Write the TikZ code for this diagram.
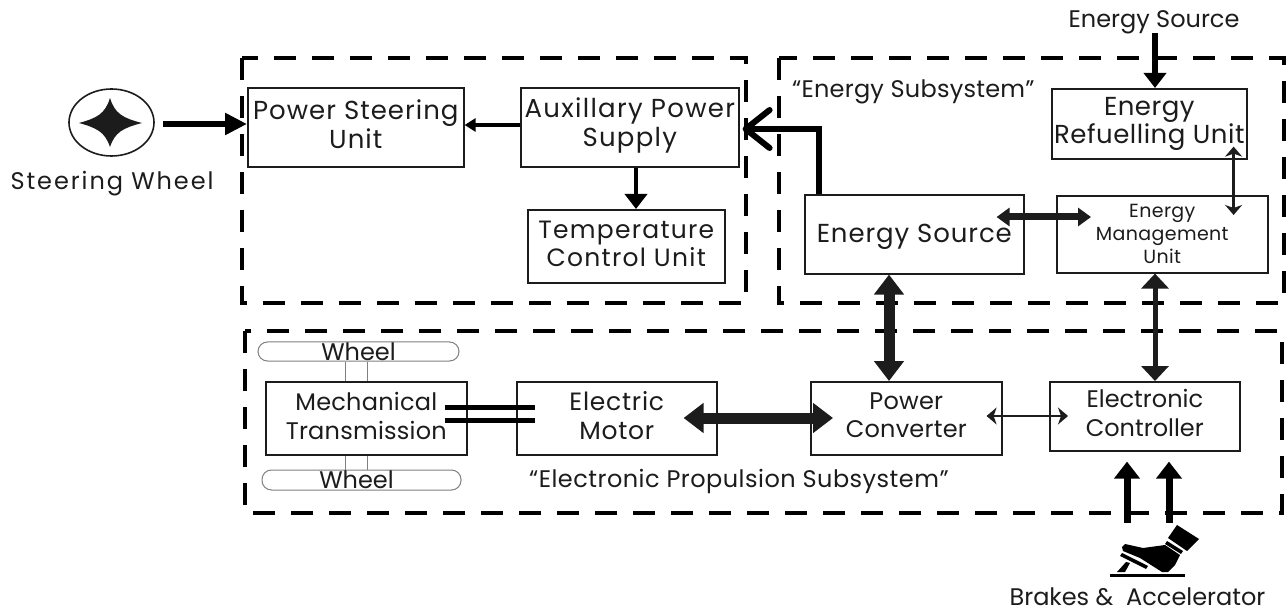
\documentclass[tikz,border=0pt]{standalone}
\usepackage{fontspec}
\setmainfont{Poppins}
\usetikzlibrary{arrows.meta,calc,shapes.geometric}
\definecolor{ink}{HTML}{1C1C1C}
\newcommand{\ft}[3]{\fontsize{#1}{#2}\selectfont\addfontfeature{LetterSpace=#3}}
\tikzset{
  x=1pt,y=-1pt,
  unit/.style={draw=ink,line width=1.6pt,inner sep=0pt,align=center,anchor=north west,text=ink},
  group/.style={draw=black,line width=3.4pt,dash pattern=on 22pt off 16pt},
  label/.style={text=ink,font={\ft{24}{28}{0}},inner sep=0pt},
  both/.style={line width=11pt,{Triangle[length=20pt,width=29pt]}-{Triangle[length=20pt,width=29pt]}},
  med/.style={line width=7pt,{Triangle[length=13pt,width=18pt]}-{Triangle[length=13pt,width=18pt]}},
  tall/.style={line width=5pt,{Triangle[length=15pt,width=27pt]}-{Triangle[length=15pt,width=27pt]}},
  single/.style={line width=6pt,-{Triangle[length=15pt,width=22pt]}},
  pedalarrow/.style={line width=7pt,-{Triangle[length=17pt,width=25pt]},shorten >=10pt},
  slim/.style={line width=2.6pt,{Stealth[length=10pt,width=17pt,inset=3pt]}-{Stealth[length=10pt,width=17pt,inset=3pt]}},
  tyre/.style={draw=gray,line width=1pt,rounded corners=9.5pt,inner sep=0pt,text=ink,font={\ft{24}{24}{0}}},
  axle/.style={draw=gray,line width=1pt},
}
\newcommand{\boxat}[7][]{\node[unit,minimum width=#5pt,minimum height=#6pt,#1] (#2) at (#3,#4) {#7};}
\begin{document}
\begin{tikzpicture}
\useasboundingbox (0,0) rectangle (1288,612);
\fill[white] (0,0) rectangle (1288,612);
% dashed groups
\draw[group] (242,58) rectangle (746,303);
\draw[group] (779,58) rectangle (1284,303);
\draw[group] (245,331) rectangle (1282,513);
% units
\boxat[font={\ft{26}{29}{4}},text depth=6pt]{ps}{247}{87}{216}{79}{Power Steering\\Unit}
\boxat[font={\ft{26}{29}{5}},text depth=11pt]{aux}{520}{87}{218}{79}{Auxillary Power\\Supply}
\boxat[font={\ft{25}{28}{5}},text depth=5pt]{temp}{527}{209}{197}{73}{Temperature\\Control Unit}
\boxat[font={\ft{26}{30}{3.5}},text depth=2pt]{es}{804}{194}{219}{79}{Energy Source}
\boxat[font={\ft{26}{28}{2}}]{ref}{1051}{88}{195}{70}{Energy\\Refuelling Unit}
\boxat[font={\ft{19}{23}{2}}]{mgmt}{1056}{195}{211}{77}{Energy\\Management\\Unit}
\boxat[font={\ft{24}{29}{1}},text depth=5pt]{mech}{265}{381}{201}{73}{Mechanical\\Transmission}
\boxat[font={\ft{25}{29}{3}},text depth=5pt]{motor}{516}{381}{200}{73}{Electric\\Motor}
\boxat[font={\ft{24}{28}{1}},text depth=6pt]{pc}{810}{381}{191}{73}{Power\\Converter}
\boxat[font={\ft{24}{29}{0}},text depth=6pt]{ctrl}{1049}{381}{190}{69}{Electronic\\Controller}
% wheels
\node[tyre,minimum width=201pt,minimum height=19pt] (w1) at (358.5,351.5) {Wheel};
\node[tyre,minimum width=199pt,minimum height=20pt] (w2) at (361.5,480) {\kern-10pt Wheel};
\draw[axle] (w1.south-|345,0) -- (mech.north-|345,0);
\draw[axle] (w1.south-|367,0) -- (mech.north-|367,0);
\draw[axle] (mech.south-|345,0) -- (w2.north-|345,0);
\draw[axle] (mech.south-|367,0) -- (w2.north-|367,0);
% steering wheel
\node[draw=ink,line width=1.6pt,ellipse,minimum width=85pt,minimum height=67pt,inner sep=0pt] (sw) at (111.5,122.5) {};
\fill[ink] (79,123) .. controls (97,118) and (105,114) .. (110,98) .. controls (115,114) and (123,118) .. (142,123) .. controls (123,128) and (115,132) .. (110,147) .. controls (105,132) and (97,128) .. (79,123) -- cycle;
\node[label,font={\ft{24}{28}{8}},anchor=center] (swl) at (112,184) {Steering Wheel};
\coordinate (swo) at (163,124);
\draw[line width=6pt,-{Triangle[length=22pt,width=21pt]},black] (swo) -- (ps.west|-swo);
% energy path to aux
\draw[line width=6pt,line join=miter,-{Straight Barb[length=24pt,width=38pt,round]},black] (es.north-|819,0) -- (819,129) -- ([xshift=3pt]aux.east|-0,129);
\draw[line width=3.5pt,-{Triangle[length=11pt,width=13pt]},black] (aux.west|-0,125) -- (ps.east|-0,125);
\draw[single,black,line width=4.5pt] (aux.south-|636,0) -- (temp.north-|636,0);
% top source
\node[label,anchor=center] (src) at (1154,22) {Energy Source};
\coordinate (srco) at (1155,33);
\draw[single,black] (srco) -- (ref.north-|srco);
\draw[med,ink] ([shift={(-28,23)}]es.north east) -- ([shift={(35,22)}]mgmt.north west);
\draw[slim,ink] ([shift={(-14,-13)}]ref.south east) -- ([xshift=-35pt,yshift=-20pt]mgmt.north east);
% between subsystems
\draw[both,ink] (es.south-|889,0) -- (pc.north-|889,0);
\draw[tall,ink] (mgmt.south-|1155,0) -- (ctrl.north-|1155,0);
\draw[both,ink] ([xshift=-34pt,yshift=-37pt]motor.north east) -- ([xshift=23pt,yshift=-37pt]pc.north west);
\draw[slim,ink,line width=2pt] ([xshift=-16pt,yshift=-35pt]pc.north east) -- ([xshift=19pt,yshift=-35pt]ctrl.north west);
% shaft
\draw[black,line width=5pt] ([xshift=-23pt,yshift=-26pt]mech.north east) -- ([xshift=19pt,yshift=-26pt]motor.north west);
\draw[black,line width=5pt] ([xshift=-23pt,yshift=-39pt]mech.north east) -- ([xshift=19pt,yshift=-39pt]motor.north west);
% labels
\node[label,font={\ft{24}{28}{1}},anchor=west] (esub) at (792,92) {“Energy Subsystem”};
\node[label,font={\ft{24}{28}{2}},anchor=west] (psub) at (529,481) {“Electronic Propulsion Subsystem”};
\node[label,anchor=center] (pedl) at (1137.5,597) {Brakes \&\ \ Accelerator};
% pedal
\fill[black] (1177,525) -- (1199,539) -- (1187,551) -- (1168,538) -- cycle;
\fill[black] (1167,541) -- (1183,551) -- (1181,554) -- (1165,544) -- cycle;
\fill[black] (1165,545) -- (1180,555) -- (1175,565) -- (1168,572) -- (1162,572) -- (1140,558) -- (1123,551) -- (1122,547) -- (1125,544) -- (1143,548) -- cycle;
\fill[black] (1122,553) -- (1148,566) -- (1146,569) -- (1120,556) -- cycle;
\fill[black] (1117,572) -- (1126,562) -- (1130,563) -- (1125,572) -- cycle;
\draw[black,line width=3pt] (1110,575.5) -- (1185,575.5);
\coordinate (pa) at (1127,523);
\coordinate (pb) at (1169,523);
\draw[pedalarrow,black] (pa) -- (ctrl.south-|pa);
\draw[pedalarrow,black] (pb) -- (ctrl.south-|pb);
\end{tikzpicture}
\end{document}
